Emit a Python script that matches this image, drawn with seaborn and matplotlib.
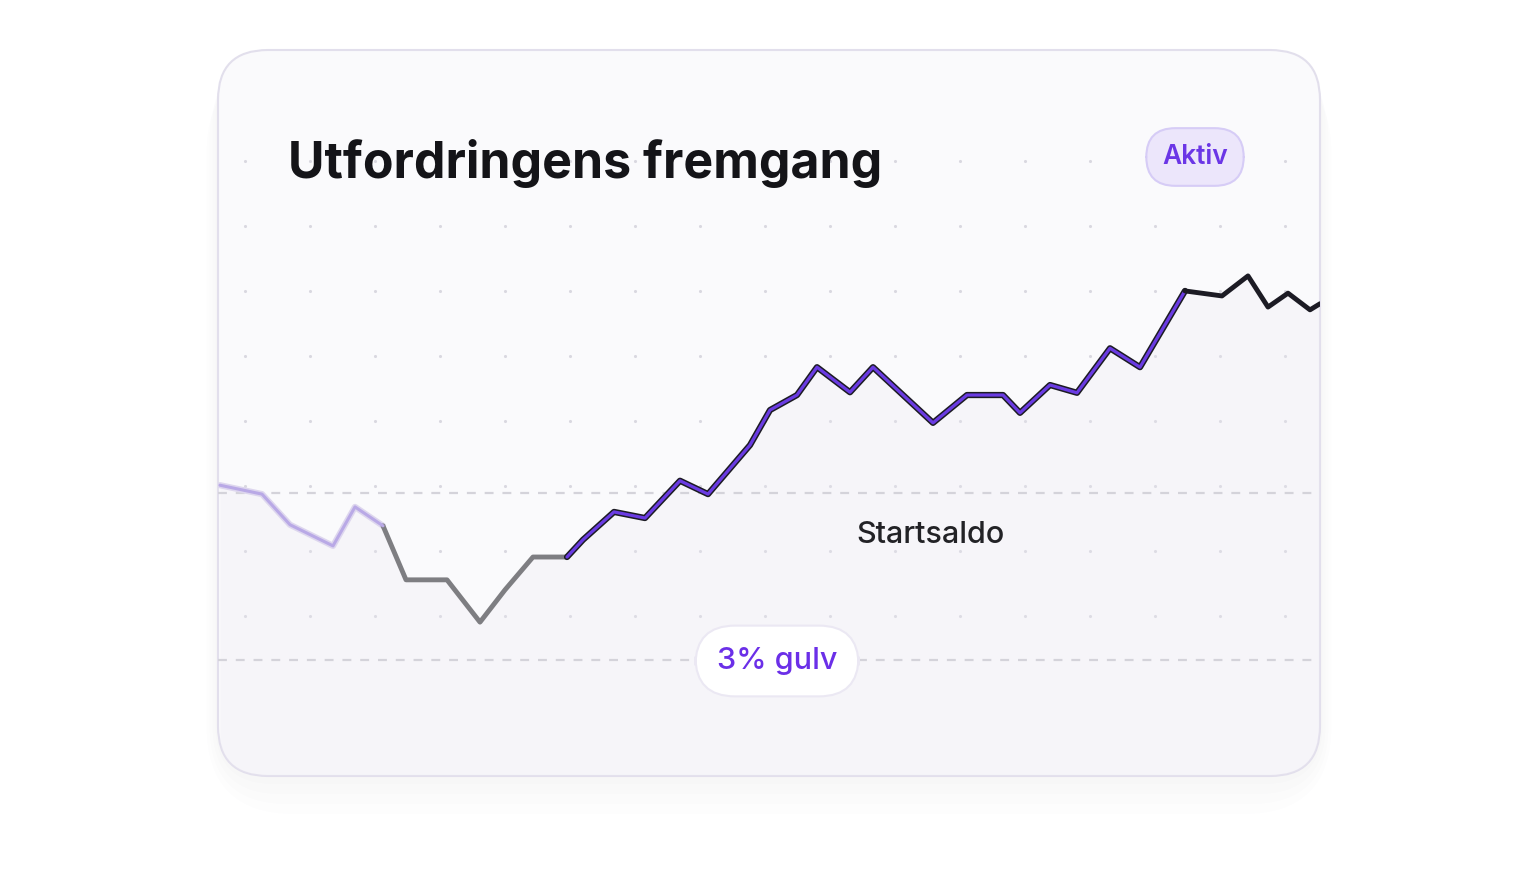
import numpy as np
import pandas as pd
import matplotlib.pyplot as plt
import seaborn as sns
from matplotlib.patches import FancyBboxPatch

# progress data: day vs balance (% of starting balance)
days = [0, 2.1, 3.5, 5.65, 6.75, 8.15, 9.3, 11.35, 13, 14.25, 15.65, 17.35, 18.15,
        19.7, 21.25, 23, 24.4, 26.5, 27.5, 28.85, 29.85, 31.5, 32.65, 35.65, 37.35,
        39.15, 40, 41.5, 42.85, 44.5, 46, 48.25, 50.1, 51.4, 52.4, 53.4, 54.5, 55]
balance = [100.14, 99.98, 99.43, 99.05, 99.75, 99.41, 98.44, 98.44, 97.68, 98.26,
           98.85, 98.85, 99.16, 99.66, 99.55, 100.22, 99.98, 100.86, 101.49, 101.76,
           102.26, 101.81, 102.26, 101.26, 101.76, 101.76, 101.44, 101.94, 101.80,
           102.60, 102.26, 103.63, 103.54, 103.90, 103.34, 103.59, 103.29, 103.40]
start_level = 100.0
floor_level = 97.0
title = "Utfordringens fremgang"
badge = "Aktiv"
start_label = "Startsaldo"
floor_label = "3% gulv"

sns.set_theme(style="white")
plt.rcParams['font.family'] = ['Inter', 'DejaVu Sans']

W, H = 1536, 886
fig = plt.figure(figsize=(W / 100, H / 100), dpi=100)
fig.patch.set_facecolor("white")

def fx(px):
    return px / W

def fy(py):
    return 1 - py / H

# soft shadow + card
for i in range(4):
    g = 8 + i * 10
    fig.patches.append(FancyBboxPatch(
        (fx(218 - g * 0.3), fy(776 + g)), fx(1102 + g * 0.6), (726 + g * 0.6) / H,
        boxstyle=f"round,pad=0,rounding_size={(50 + g) / W}", transform=fig.transFigure,
        facecolor="#6a5fa0", edgecolor="none", alpha=0.012, zorder=0, mutation_aspect=W / H))
card = FancyBboxPatch((fx(218), fy(776)), fx(1102), 726 / H,
                      boxstyle=f"round,pad=0,rounding_size={50 / W}",
                      transform=fig.transFigure, facecolor="#fafafc",
                      edgecolor="#e2dfec", linewidth=1.5, zorder=1, mutation_aspect=W / H)
fig.patches.append(card)

ax = fig.add_axes([fx(218), fy(776), fx(1102), 726 / H])
ax.set_facecolor("none")
ax.patch.set_alpha(0)
ax.set_zorder(2)
ax.set_xlim(-0.1, 55)
y_lo = 100 - 283 * 3 / 167
y_hi = 100 + 443 * 3 / 167
ax.set_ylim(y_lo, y_hi)
for s in ax.spines.values():
    s.set_visible(False)
ax.set_xticks([])
ax.set_yticks([])

def px2x(px):
    return (px - 220) * 0.05

def py2y(py):
    return 100 + (493 - py) * 3 / 167

# dot grid
gx = [px2x(p) for p in np.arange(245, 1300, 65)]
gy = [py2y(p) for p in np.arange(161, 640, 65)]
GX, GY = np.meshgrid(gx, gy)
ax.scatter(GX.ravel(), GY.ravel(), s=5, color="#d9d8e0", linewidths=0, zorder=1)

# faint fill under line, clipped to the card
fill = ax.fill_between(days, balance, y_lo, color="#ece9f3", alpha=0.25, linewidth=0, zorder=1)
fill.set_clip_path(card)

# reference lines
ax.axhline(start_level, color="#d4d3da", lw=1.6, ls=(0, (4, 4)), zorder=2)
ax.axhline(floor_level, color="#d4d3da", lw=1.6, ls=(0, (4, 4)), zorder=2)

df = pd.DataFrame({"day": days, "balance": balance})

def seg(a, b, color, lw, z):
    d = df.iloc[a:b + 1]
    sns.lineplot(data=d, x="day", y="balance", sort=False, color=color, lw=lw,
                 ax=ax, zorder=z, solid_joinstyle="round", solid_capstyle="round")

seg(0, 5, "#ddd6ee", 4.5, 3)
seg(0, 5, "#b9a9e6", 2.2, 4)
seg(5, 11, "#7e7e82", 3.5, 3)
seg(11, 31, "#1c1b24", 4.5, 3)
seg(11, 31, "#6a3be2", 2.3, 4)
seg(31, len(days) - 1, "#1c1b24", 3.5, 4)
ax.set_xlabel("")
ax.set_ylabel("")

# texts
fig.text(fx(288), fy(178), title, fontsize=36, fontweight="bold", color="#141418",
         ha="left", va="baseline", zorder=5)
fig.text(fx(1195), fy(157), badge, fontsize=19, fontweight="semibold", color="#6b36e6",
         ha="center", va="center", zorder=6,
         bbox=dict(boxstyle="round,pad=0.6,rounding_size=1.1", fc="#ece6fb",
                   ec="#d6ccf6", lw=1.5))
ax.text(px2x(930), py2y(535), start_label, fontsize=22, fontweight="medium",
        color="#222226", ha="center", va="center", zorder=5)
ax.text(px2x(777), py2y(661), floor_label, fontsize=22, fontweight="medium",
        color="#6b2fe8", ha="center", va="center", zorder=6,
        bbox=dict(boxstyle="round,pad=0.7,rounding_size=1.3", fc="white",
                  ec="#ebe8f3", lw=1.5))

fig.savefig("out.png", dpi=100, facecolor="white")
